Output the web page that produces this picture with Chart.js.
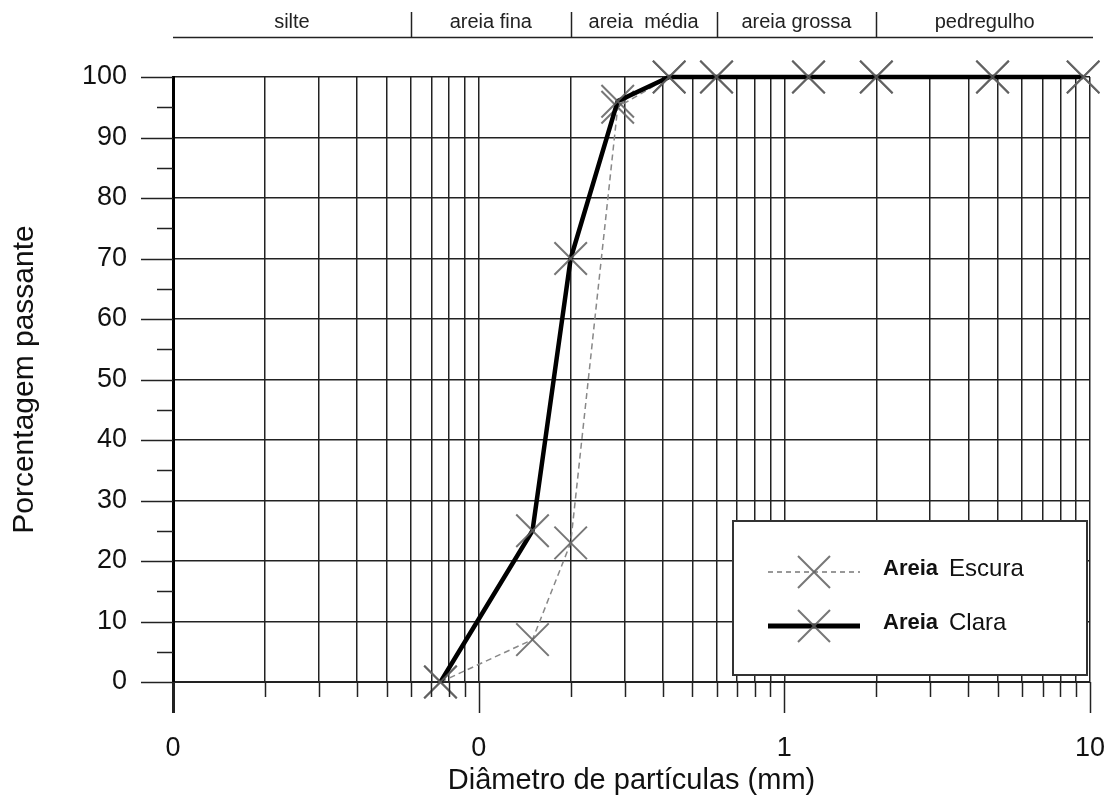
<!DOCTYPE html>
<html>
<head>
<meta charset="utf-8">
<script src="https://cdn.jsdelivr.net/npm/chart.js@4.4.1/dist/chart.umd.min.js"></script>
<style>
html,body{margin:0;padding:0;background:#fff;}
#wrap{width:1112px;height:795px;position:relative;}
</style>
</head>
<body>
<div id="wrap"><canvas id="c" width="1112" height="795"></canvas></div>
<script>
// ---- data ----
const sieveSizes = [0.075, 0.15, 0.2, 0.285, 0.42, 0.6, 1.2, 2.0, 4.8, 9.5];
const areiaEscura = [0, 7, 23, 95, 100, 100, 100, 100, 100, 100];
const areiaClara  = [0, 25, 70, 96, 100, 100, 100, 100, 100, 100];
const seriesNames = ['Areia Escura', 'Areia Clara'];

const xTickValues = [0.01,0.02,0.03,0.04,0.05,0.06,0.07,0.08,0.09,
                     0.1,0.2,0.3,0.4,0.5,0.6,0.7,0.8,0.9,
                     1,2,3,4,5,6,7,8,9,10];
const xDecades = [0.01, 0.1, 1, 10];
const xDecadeLabels = ['0', '0', '1', '10'];
const yTickValues = [0,5,10,15,20,25,30,35,40,45,50,55,60,65,70,75,80,85,90,95,100];

const zoneBounds = [0.01, 0.06, 0.2, 0.6, 2, 10];
const zoneNames = ['silte', 'areia fina', 'areia  média', 'areia grossa', 'pedregulho'];

const FONT = '"Liberation Sans", Arial, sans-serif';
const GRID = '#222';
const MARK = 'rgba(95,95,95,0.85)';

function isDecade(v){ return xDecades.some(d => Math.abs(d - v) < 1e-9); }

const overlay = {
  id: 'overlay',
  afterDraw(chart){
    const ctx = chart.ctx, xs = chart.scales.x, ys = chart.scales.y;
    const ca = chart.chartArea;
    ctx.save();
    // tick marks
    ctx.strokeStyle = GRID;
    xTickValues.forEach((v, i) => {
      const px = Math.round(xs.getPixelForValue(v)) + 0.5;
      const len = isDecade(v) ? 31 : 15;
      ctx.lineWidth = i === 0 ? 3 : 1.5;
      ctx.beginPath(); ctx.moveTo(px, ca.bottom); ctx.lineTo(px, ca.bottom + len); ctx.stroke();
    });
    ctx.lineWidth = 1.5;
    yTickValues.forEach(v => {
      const py = Math.round(ys.getPixelForValue(v)) + 0.5;
      const len = v % 10 === 0 ? 32 : 16;
      ctx.beginPath(); ctx.moveTo(ca.left - len, py); ctx.lineTo(ca.left, py); ctx.stroke();
    });
    // x tick labels (decades)
    ctx.fillStyle = '#111';
    ctx.font = '27px ' + FONT;
    ctx.textAlign = 'center'; ctx.textBaseline = 'middle';
    xDecades.forEach((v, i) => {
      ctx.fillText(xDecadeLabels[i], xs.getPixelForValue(v), ca.bottom + 67);
    });
    // zone band
    const bandY = 37.5;
    ctx.strokeStyle = '#222'; ctx.lineWidth = 1.5;
    ctx.beginPath(); ctx.moveTo(ca.left, bandY); ctx.lineTo(ca.right + 3, bandY); ctx.stroke();
    ctx.fillStyle = '#222';
    ctx.font = '20px ' + FONT;
    ctx.textAlign = 'center'; ctx.textBaseline = 'middle';
    for (let i = 0; i < zoneNames.length; i++) {
      const a = xs.getPixelForValue(zoneBounds[i]);
      const b = i === zoneNames.length - 1 ? ca.right + 3 : xs.getPixelForValue(zoneBounds[i+1]);
      if (i > 0) {
        const px = Math.round(a) + 0.5;
        ctx.beginPath(); ctx.moveTo(px, 12); ctx.lineTo(px, bandY); ctx.stroke();
      }
      ctx.fillText(zoneNames[i], (a + b) / 2, 22);
    }
    // legend
    const lx = 733, ly = 521, lw = 354, lh = 154;
    ctx.fillStyle = '#fff';
    ctx.fillRect(lx, ly, lw, lh);
    ctx.strokeStyle = '#333'; ctx.lineWidth = 2;
    ctx.strokeRect(lx, ly, lw, lh);
    const rows = [
      {y: 572, dash: [5,4], color: '#777', width: 1.5},
      {y: 626, dash: [], color: '#000', width: 5}
    ];
    rows.forEach((r, i) => {
      ctx.save();
      ctx.setLineDash(r.dash); ctx.strokeStyle = r.color; ctx.lineWidth = r.width;
      ctx.beginPath(); ctx.moveTo(768, r.y); ctx.lineTo(860, r.y); ctx.stroke();
      ctx.restore();
      ctx.strokeStyle = MARK; ctx.lineWidth = 2;
      const s = 16;
      ctx.beginPath();
      ctx.moveTo(814 - s, r.y - s); ctx.lineTo(814 + s, r.y + s);
      ctx.moveTo(814 - s, r.y + s); ctx.lineTo(814 + s, r.y - s);
      ctx.stroke();
      const parts = seriesNames[i].split(' ');
      ctx.fillStyle = '#111'; ctx.textAlign = 'left'; ctx.textBaseline = 'middle';
      ctx.font = 'bold 22px ' + FONT;
      ctx.fillText(parts[0], 883, r.y - 3);
      const w = ctx.measureText(parts[0]).width;
      ctx.font = '24px ' + FONT;
      ctx.fillText(parts[1], 883 + w + 11, r.y - 3);
    });
    ctx.restore();
  }
};

new Chart(document.getElementById('c'), {
  type: 'line',
  data: {
    datasets: [
      {
        label: seriesNames[1],
        data: sieveSizes.map((x, i) => ({x: x, y: areiaClara[i]})),
        borderColor: '#000', borderWidth: 4.5, clip: false,
        pointStyle: 'crossRot', pointRadius: 23, pointBorderColor: MARK, pointBorderWidth: 2,
        pointBackgroundColor: 'transparent', tension: 0, order: 1
      },
      {
        label: seriesNames[0],
        data: sieveSizes.map((x, i) => ({x: x, y: areiaEscura[i]})),
        borderColor: '#888', borderWidth: 1.5, borderDash: [6, 4], clip: false,
        pointStyle: 'crossRot', pointRadius: 23, pointBorderColor: MARK, pointBorderWidth: 2,
        pointBackgroundColor: 'transparent', tension: 0, order: 2
      }
    ]
  },
  options: {
    responsive: false, animation: false,
    layout: {autoPadding: false, padding: {top: 77, right: 22, left: 0, bottom: 0}},
    plugins: {legend: {display: false}, tooltip: {enabled: false}},
    scales: {
      x: {
        type: 'logarithmic', min: 0.01, max: 10,
        afterBuildTicks(s){ s.ticks = xTickValues.map(v => ({value: v})); },
        afterFit(s){ s.height = 113; s.paddingLeft = 0; s.paddingRight = 0; },
        grid: {color: GRID, lineWidth: 1.5, drawTicks: false},
        border: {color: GRID, width: 2},
        ticks: {display: false, autoSkip: false, maxRotation: 0},
        title: {display: true, text: 'Diâmetro de partículas (mm)', color: '#111',
                font: {family: FONT, size: 29, lineHeight: 1.0}, padding: {top: 0, bottom: 0}}
      },
      y: {
        type: 'linear', min: 0, max: 100,
        afterBuildTicks(s){ s.ticks = yTickValues.map(v => ({value: v})); },
        afterFit(s){ s.width = 173; },
        grid: {color: c => (c.tick && c.tick.value % 10 === 0) ? GRID : 'rgba(0,0,0,0)', lineWidth: 1.5, drawTicks: false},
        border: {color: '#000', width: 3},
        ticks: {
          autoSkip: false, padding: 46, color: '#111',
          font: {family: FONT, size: 27},
          callback(v){ return v % 10 === 0 ? String(v) : ''; }
        },
        title: {display: true, text: 'Porcentagem passante', color: '#111',
                font: {family: FONT, size: 30, lineHeight: 1.0}, padding: {top: 10, bottom: 0}}
      }
    }
  },
  plugins: [overlay]
});
</script>
</body>
</html>
